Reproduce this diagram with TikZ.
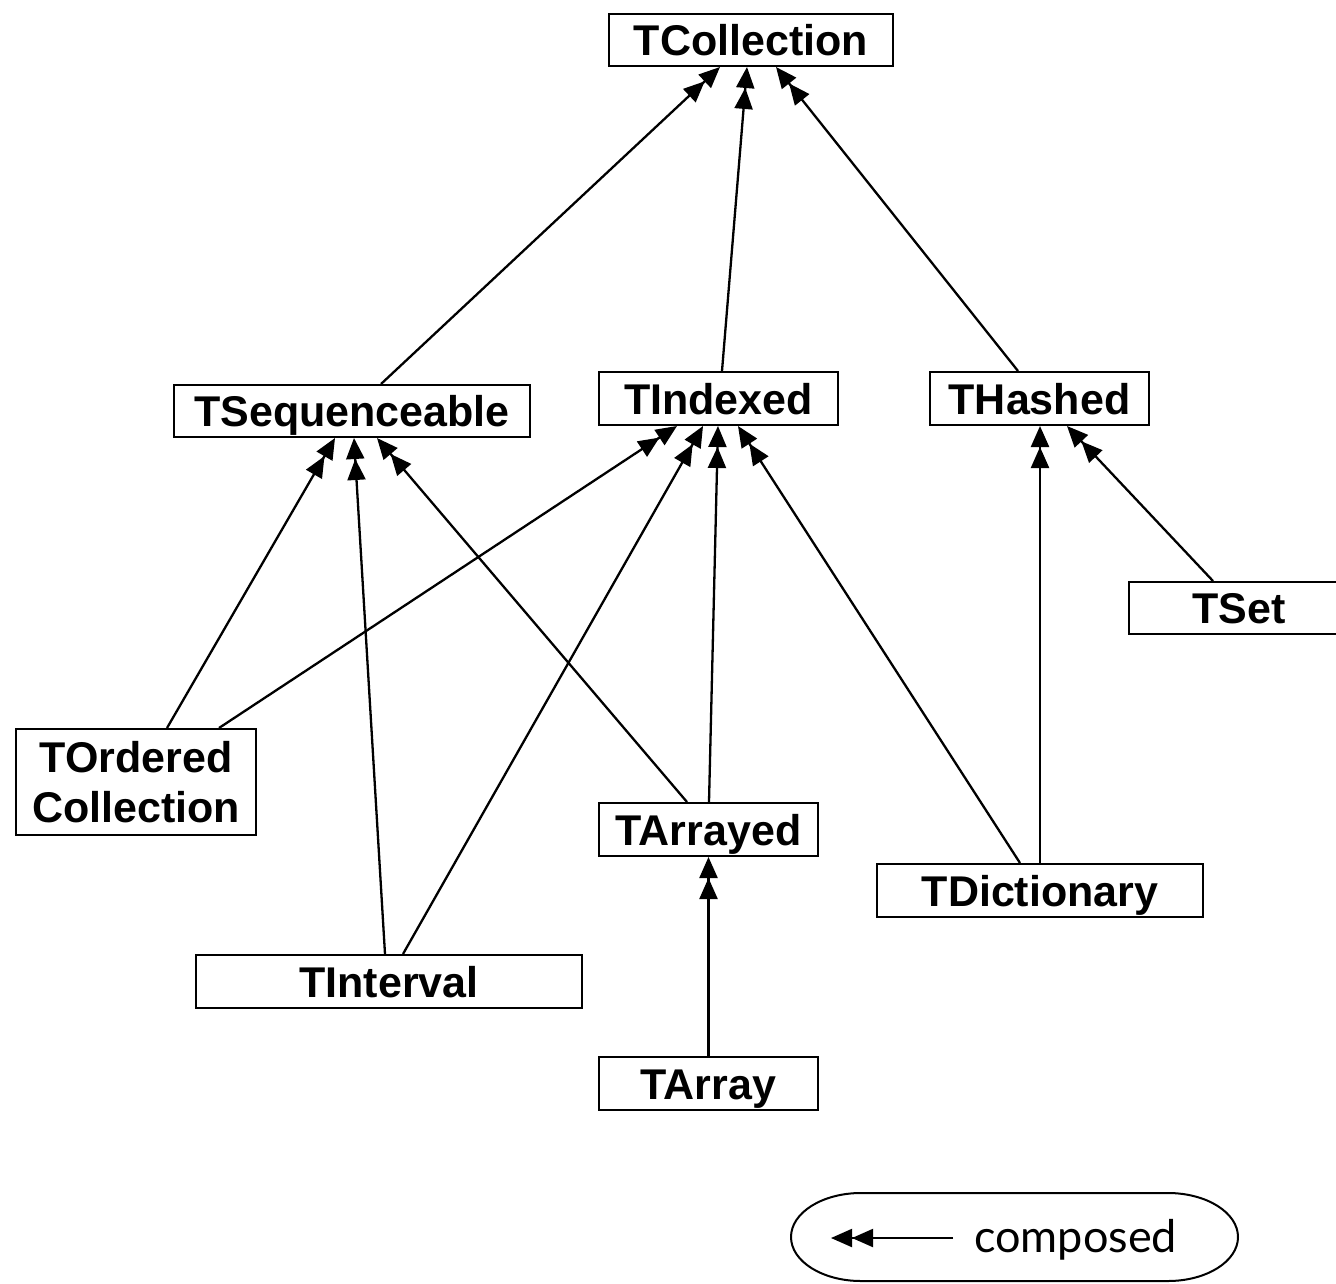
\documentclass[tikz,border=0pt]{standalone}
\usepackage{fontspec}
\setmainfont{Liberation Sans}
\newfontfamily\legendfont{Lato}
\usetikzlibrary{arrows.meta}
\begin{document}
\begin{tikzpicture}[x=1pt,y=-1pt,
  cls/.style={draw, line width=2pt, fill=white, inner sep=0pt, align=center,
    font=\bfseries\fontsize{43}{50}\selectfont},
  oneline/.style={text height=31pt, text depth=0pt},
  inherit/.style={line width=2.3pt,
    -{Triangle[length=21pt,width=18pt]Triangle[length=21pt,width=18pt]}},
]
\useasboundingbox (0,0) rectangle (1336,1283);

% class boxes
\node[cls, oneline, minimum width=284pt, minimum height=52pt] (col) at (751,40) {TCollection};
\node[cls, oneline, minimum width=356pt, minimum height=52pt] (seq) at (352,411) {TSequenceable};
\node[cls, oneline, minimum width=239pt, minimum height=53pt] (idx) at (718.5,398.5) {TIndexed};
\node[cls, oneline, minimum width=219pt, minimum height=53pt] (hsh) at (1039.5,398.5) {THashed};
\node[cls, oneline, minimum width=220pt, minimum height=52pt] (set) at (1239,608) {TSet};
\node[cls, minimum width=240pt, minimum height=106pt] (ord) at (136,782) {TOrdered\\Collection};
\node[cls, oneline, minimum width=219pt, minimum height=53pt] (arr) at (708.5,829.5) {TArrayed};
\node[cls, oneline, minimum width=326pt, minimum height=53pt] (dic) at (1040,890.5) {TDictionary};
\node[cls, oneline, minimum width=386pt, minimum height=53pt] (itv) at (389,981.5) {TInterval};
\node[cls, oneline, minimum width=219pt, minimum height=53pt] (ary) at (708.5,1083.5) {TArray};

% inheritance connectors
\draw[inherit] ([xshift=29pt]seq.north) -- ([xshift=-31pt]col.south);
\draw[inherit] ([xshift=3.5pt]idx.north) -- ([xshift=-4pt]col.south);
\draw[inherit] ([xshift=-21.5pt]hsh.north) -- ([xshift=25pt]col.south);

\draw[inherit] ([xshift=31pt]ord.north) -- ([xshift=-17pt]seq.south);
\draw[inherit] ([xshift=-4pt]itv.north) -- ([xshift=2pt]seq.south);
\draw[inherit] ([xshift=-21.5pt]arr.north) -- ([xshift=25pt]seq.south);

\draw[inherit] ([xshift=83pt]ord.north) -- ([xshift=-41.5pt]idx.south);
\draw[inherit] ([xshift=14pt]itv.north) -- ([xshift=-15.5pt]idx.south);
\draw[inherit] ([xshift=0.5pt]arr.north) -- ([xshift=-0.5pt]idx.south);
\draw[inherit] ([xshift=-20pt]dic.north) -- ([xshift=19.5pt]idx.south);

\draw[inherit] (dic.north) -- ([xshift=0.5pt]hsh.south);
\draw[inherit] ([xshift=-26pt]set.north) -- ([xshift=27.5pt]hsh.south);

\draw[inherit] (ary.north) -- (arr.south);

% legend
\draw[line width=2pt] (1168,1193) -- (861,1193)
  arc[start angle=90, end angle=270, x radius=70pt, y radius=44pt]
  -- (1168,1281)
  arc[start angle=-90, end angle=90, x radius=70pt, y radius=44pt] -- cycle;
\coordinate (lgtail) at (953,1238);
\coordinate (lghead) at (831,1238);
\draw[inherit, line width=2pt] (lgtail) -- (lghead);
\node[font=\legendfont\fontsize{45}{50}\selectfont, anchor=west, inner sep=0pt] (lgtext) at (974,1240) {composed};
\end{tikzpicture}
\end{document}
